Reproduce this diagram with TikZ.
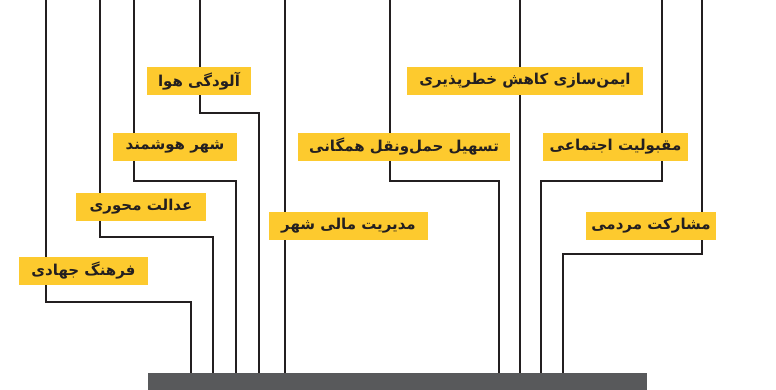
\documentclass[tikz,border=0pt]{standalone}
\usepackage{fontspec}
\newfontfamily\farsi[Script=Arabic]{DejaVu Sans}
\TeXXeTstate=1
\usetikzlibrary{calc}

\definecolor{goalyellow}{HTML}{FDCA2E}
\definecolor{linedark}{HTML}{231F20}
\definecolor{bargray}{HTML}{58595B}

\begin{document}
\begin{tikzpicture}[x=1pt,y=-1pt,
    branch/.style={draw=linedark,line width=2.4pt},
    goalbox/.style={fill=goalyellow,minimum height=28pt,inner sep=0pt,
      text=linedark,font=\farsi\bfseries\fontsize{15}{17}\selectfont}]
    \useasboundingbox (0,0) rectangle (776,390);
    %土台の棒
    \node[fill=bargray,anchor=north west,minimum width=499pt,minimum height=17pt,inner sep=0pt] (bar) at (148,373) {};
    %左側の枝(上から下へ曲がって土台へ)
    \coordinate (a0) at (46,0);
    \coordinate (a1) at (46,302);
    \coordinate (a2) at (191,302);
    \coordinate (b0) at (100,0);
    \coordinate (b1) at (100,237);
    \coordinate (b2) at (213,237);
    \coordinate (c0) at (134,0);
    \coordinate (c1) at (134,181);
    \coordinate (c2) at (236,181);
    \coordinate (d0) at (200,0);
    \coordinate (d1) at (200,113);
    \coordinate (d2) at (259,113);
    \coordinate (e0) at (285,0);
    \draw[branch] (a0)--(a1)--(a2)--(a2 |- bar.north);
    \draw[branch] (b0)--(b1)--(b2)--(b2 |- bar.north);
    \draw[branch] (c0)--(c1)--(c2)--(c2 |- bar.north);
    \draw[branch] (d0)--(d1)--(d2)--(d2 |- bar.north);
    \draw[branch] (e0)--(e0 |- bar.north);
    %右側の枝
    \coordinate (f0) at (390,0);
    \coordinate (f1) at (390,181);
    \coordinate (f2) at (499,181);
    \coordinate (g0) at (520,0);
    \coordinate (h0) at (662,0);
    \coordinate (h1) at (662,181);
    \coordinate (h2) at (541,181);
    \coordinate (i0) at (702,0);
    \coordinate (i1) at (702,254);
    \coordinate (i2) at (563,254);
    \draw[branch] (f0)--(f1)--(f2)--(f2 |- bar.north);
    \draw[branch] (g0)--(g0 |- bar.north);
    \draw[branch] (h0)--(h1)--(h2)--(h2 |- bar.north);
    \draw[branch] (i0)--(i1)--(i2)--(i2 |- bar.north);
    %ラベル
    \node[goalbox,minimum width=129pt] (jihad) at (83.5,271) {\beginR فرهنگ جهادی\endR};
    \node[goalbox,minimum width=130pt] (adalat) at (141,207) {\beginR عدالت محوری\endR};
    \node[goalbox,minimum width=124pt] (hooshmand) at (175,147) {\beginR شهر هوشمند\endR};
    \node[goalbox,minimum width=104pt] (hava) at (199,81) {\beginR آلودگی هوا\endR};
    \node[goalbox,minimum width=159pt] (mali) at (348.5,226) {\beginR مدیریت مالی شهر\endR};
    \node[goalbox,minimum width=212pt] (haml) at (404,147) {\beginR تسهیل حمل^^^^200cونقل همگانی\endR};
    \node[goalbox,minimum width=236pt] (imeni) at (525,81) {\beginR ایمن^^^^200cسازی کاهش خطرپذیری\endR};
    \node[goalbox,minimum width=145pt] (maghbool) at (615.5,147) {\beginR مقبولیت اجتماعی\endR};
    \node[goalbox,minimum width=130pt] (mosharekat) at (651,226) {\beginR مشارکت مردمی\endR};
\end{tikzpicture}
\end{document}
